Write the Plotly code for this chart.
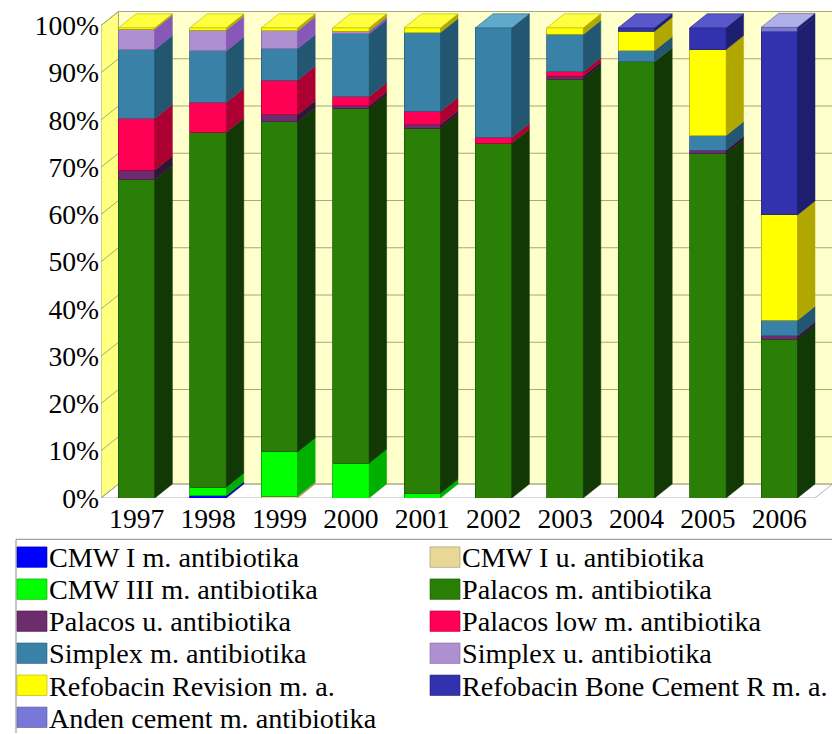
import plotly.graph_objects as go

years = [1997, 1998, 1999, 2000, 2001, 2002, 2003, 2004, 2005, 2006]
tick_values = [0, 10, 20, 30, 40, 50, 60, 70, 80, 90, 100]
tick_labels = ["0%", "10%", "20%", "30%", "40%", "50%", "60%", "70%", "80%", "90%", "100%"]

names = ["CMW I m. antibiotika", "CMW I u. antibiotika", "CMW III m. antibiotika",
         "Palacos m. antibiotika", "Palacos u. antibiotika", "Palacos low m. antibiotika",
         "Simplex m. antibiotika", "Simplex u. antibiotika", "Refobacin Revision m. a.",
         "Refobacin Bone Cement R m. a.", "Anden cement m. antibiotika"]

cmw1_m = [0, 0.5, 0, 0, 0, 0, 0, 0, 0, 0]
cmw1_u = [0, 0, 0.4, 0, 0, 0, 0, 0, 0, 0]
cmw3_m = [0, 1.8, 9.35, 7.35, 1.0, 0, 0, 0, 0, 0]
palacos_m = [67.4, 75.1, 69.85, 75.05, 77.3, 75.1, 88.6, 92.3, 72.9, 33.6]
palacos_u = [2.0, 0, 1.5, 0.6, 0.7, 0, 0.7, 0, 0.7, 0.7]
palacos_low = [10.9, 6.3, 7.3, 1.9, 2.8, 1.2, 0.9, 0, 0, 0]
simplex_m = [14.6, 10.9, 6.7, 13.3, 16.7, 23.2, 7.9, 2.4, 3.1, 3.3]
simplex_u = [4.3, 4.4, 3.8, 0.6, 0, 0, 0, 0, 0, 0]
refobacin_rev = [0.3, 0.5, 0.6, 0.7, 1.0, 0, 1.4, 4.1, 18.2, 22.3]
refobacin_bone = [0, 0, 0, 0, 0, 0, 0, 0.7, 4.6, 38.9]
anden = [0, 0, 0, 0, 0, 0, 0, 0, 0, 0.8]
series = [cmw1_m, cmw1_u, cmw3_m, palacos_m, palacos_u, palacos_low, simplex_m,
          simplex_u, refobacin_rev, refobacin_bone, anden]

front = ["#0000FF", "#E8D898", "#00FF00", "#2A7F07", "#6D2C6D", "#FF0055",
         "#3A81A8", "#AE90D0", "#FFFF00", "#3232AF", "#7878D8"]
side = ["#0000A8", "#B09860", "#00B000", "#123805", "#301636", "#AC0033",
        "#235670", "#8858B8", "#B0A800", "#1E1E70", "#1E1E70"]
top = ["#4040FF", "#F0E4B0", "#40FF40", "#409020", "#8A4A8A", "#FF4080",
       "#60A8CC", "#C8B0E0", "#FFFF40", "#5858CC", "#B0B0E8"]
edge = ["#0000A0", "#A09060", "#00A000", "#1C5A05", "#4A1E4A", "#B00040",
        "#2A6080", "#806AA0", "#B0B000", "#24247C", "#5858A0"]

BAR_W = 0.51
DX, DY = 0.245, 2.96
X0, X1 = 1996.5, 2006.5
W, H = 832, 734
ML, MT, MB = 101, 10.5, 235.5
X_END = X0 + (W - ML) / 71.4
Y_END = 100 * (H - MB - MT) / 473.5 + 0

fig = go.Figure()

# stacked front faces
for n, vals, c, e in zip(names, series, front, edge):
    fig.add_trace(go.Bar(x=years, y=[v if v else None for v in vals], name=n, width=BAR_W,
                         marker=dict(color=c, line=dict(color=e, width=0.8)),
                         showlegend=False))

# side faces
base = [0.0] * len(years)
top_idx = [0] * len(years)
for k, vals in enumerate(series):
    xs, ys = [], []
    for i, v in enumerate(vals):
        if v:
            xr = years[i] + BAR_W / 2
            a, b = base[i], base[i] + v
            xs += [xr, xr + DX, xr + DX, xr, xr, None]
            ys += [a, a + DY, b + DY, b, a, None]
            base[i] = b
            top_idx[i] = k
    if xs:
        fig.add_trace(go.Scatter(x=xs, y=ys, mode="lines", fill="toself", fillcolor=side[k],
                                 line=dict(color=side[k], width=0.5), hoverinfo="skip",
                                 showlegend=False))

# top faces
for k in range(len(series)):
    xs, ys = [], []
    for i in range(len(years)):
        if top_idx[i] == k:
            xl, xr = years[i] - BAR_W / 2, years[i] + BAR_W / 2
            t = base[i]
            xs += [xl, xr, xr + DX, xl + DX, xl, None]
            ys += [t, t, t + DY, t + DY, t, None]
    if xs:
        fig.add_trace(go.Scatter(x=xs, y=ys, mode="lines", fill="toself", fillcolor=top[k],
                                 line=dict(color=edge[k], width=0.6), hoverinfo="skip",
                                 showlegend=False))

shapes = []
WALL_LINE = "#A8A878"
# back wall, left wall, floor
shapes.append(dict(type="rect", xref="x", yref="y", x0=X0 + DX, x1=X_END, y0=DY, y1=100 + DY,
                   fillcolor="#FFFFCC", line=dict(width=0), layer="below"))
shapes.append(dict(type="path", xref="x", yref="y", layer="below", fillcolor="#FFFF80",
                   line=dict(color=WALL_LINE, width=1),
                   path=f"M{X0},0 L{X0 + DX},{DY} L{X0 + DX},{100 + DY} L{X0},100 Z"))
shapes.append(dict(type="path", xref="x", yref="y", layer="below", fillcolor="#FFFFFF",
                   line=dict(color="#B0B0B0", width=1),
                   path=f"M{X0},0 L{X1},0 L{X1 + DX},{DY} L{X0 + DX},{DY} Z"))
for v in tick_values:
    shapes.append(dict(type="line", xref="x", yref="y", layer="below", x0=X0 + DX, x1=X_END,
                       y0=v + DY, y1=v + DY, line=dict(color=WALL_LINE, width=1.2)))
    shapes.append(dict(type="line", xref="x", yref="y", layer="below", x0=X0, x1=X0 + DX,
                       y0=v, y1=v + DY, line=dict(color=WALL_LINE, width=1)))


def px(v):
    return (v - ML) / (W - ML)


def py(v):
    return (H - MB - v) / (H - MB - MT)


# legend box
shapes.append(dict(type="line", xref="paper", yref="paper", x0=px(16), x1=px(832), y0=py(540), y1=py(540),
                   line=dict(color="#A0A0A0", width=1.2)))
shapes.append(dict(type="line", xref="paper", yref="paper", x0=px(16), x1=px(16), y0=py(540), y1=py(734),
                   line=dict(color="#A0A0A0", width=1.2)))

annotations = []
for k, n in enumerate(names):
    col, row = k % 2, k // 2
    sx = 17 + col * 413
    sy = 547.5 + row * 32.1
    shapes.append(dict(type="rect", xref="paper", yref="paper", x0=px(sx), x1=px(sx + 30),
                       y0=py(sy), y1=py(sy + 20.5), fillcolor=front[k],
                       line=dict(color=edge[k], width=0.6)))
    annotations.append(dict(xref="paper", yref="paper", x=px(sx + 30), y=py(sy + 11),
                            xanchor="left", yanchor="middle", text=n, showarrow=False,
                            font=dict(family="Liberation Serif", size=28.2, color="#000000")))

fig.update_layout(
    width=W, height=H, barmode="stack", showlegend=False,
    margin=dict(l=ML, r=0, t=MT, b=MB, pad=0),
    paper_bgcolor="white", plot_bgcolor="white",
    font=dict(family="Liberation Serif", size=27.6, color="#000000"),
    shapes=shapes, annotations=annotations,
    xaxis=dict(range=[X0, X_END], tickmode="array", tickvals=years, ticktext=[str(y) for y in years],
               showgrid=False, zeroline=False, showline=False, ticks="", tickangle=0,
               ticklabelstandoff=1),
    yaxis=dict(range=[0, Y_END], tickmode="array", tickvals=tick_values, ticktext=tick_labels,
               showgrid=False, zeroline=False, showline=False, ticks="", ticklabelstandoff=1),
)
fig.write_html("out.html", config={"displayModeBar": False},
               post_script="document.body.style.margin='0';")
